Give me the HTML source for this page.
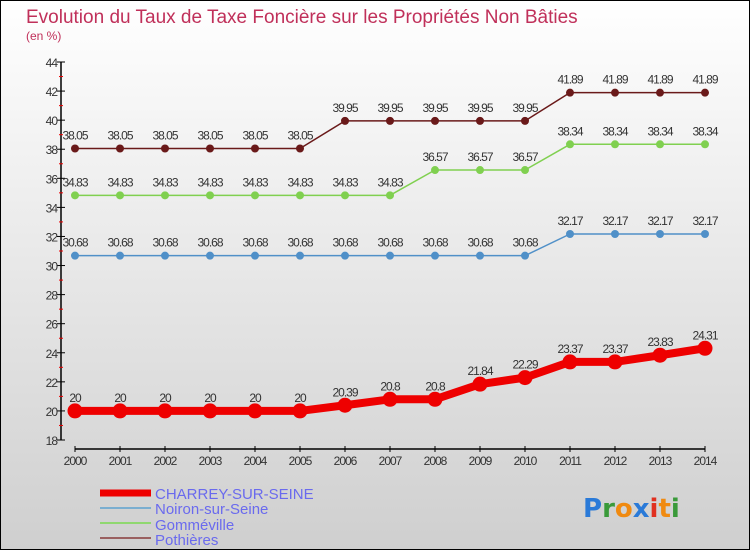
<!DOCTYPE html>
<html><head><meta charset="utf-8"><style>
body{margin:0;padding:0}
#c{width:750px;height:550px;position:relative;overflow:hidden;font-family:"Liberation Sans","DejaVu Sans",sans-serif}
</style></head><body>
<div id="c">
<svg id="s" width="750" height="550" xmlns="http://www.w3.org/2000/svg">
<defs><linearGradient id="bg" x1="0" y1="0" x2="0" y2="1"><stop offset="0" stop-color="#ffffff"/><stop offset="1" stop-color="#cfcfcf"/></linearGradient></defs>
<rect x="0.5" y="0.5" width="749" height="549" fill="url(#bg)" stroke="#000"/>
<text x="26" y="23" font-size="19" fill="#c0305a">Evolution du Taux de Taxe Foncière sur les Propriétés Non Bâties</text>
<text x="26" y="40" font-size="12" fill="#c0305a">(en %)</text>
<g id="plot"></g>
<g>
<line x1="100" y1="493" x2="151" y2="493" stroke="#ee0000" stroke-width="7"/>
<text x="155" y="499" font-size="15" fill="#6a6aee">CHARREY-SUR-SEINE</text>
<line x1="100" y1="508" x2="151" y2="508" stroke="#7aaed0" stroke-width="2"/>
<text x="155" y="514" font-size="15" fill="#6a6aee">Noiron-sur-Seine</text>
<line x1="100" y1="523" x2="151" y2="523" stroke="#90d870" stroke-width="2"/>
<text x="155" y="530" font-size="15" fill="#6a6aee">Gomméville</text>
<line x1="100" y1="538" x2="151" y2="538" stroke="#9a6060" stroke-width="2"/>
<text x="155" y="545" font-size="15" fill="#6a6aee">Pothières</text>
</g>
<g font-size="26" font-family="'DejaVu Sans',sans-serif" font-weight="bold">
<text x="583" y="517"><tspan fill="#2a7ad8">P</tspan><tspan fill="#3a9a3a">r</tspan><tspan fill="#f08a10">o</tspan><tspan fill="#2a7ad8">x</tspan><tspan fill="#e03020">i</tspan><tspan fill="#f08a10">t</tspan><tspan fill="#3a9a3a">i</tspan></text>
</g>
</svg>
</div>
<script>
const years = [2000,2001,2002,2003,2004,2005,2006,2007,2008,2009,2010,2011,2012,2013,2014];
const charrey = [20,20,20,20,20,20,20.39,20.8,20.8,21.84,22.29,23.37,23.37,23.83,24.31];
const noiron = [30.68,30.68,30.68,30.68,30.68,30.68,30.68,30.68,30.68,30.68,30.68,32.17,32.17,32.17,32.17];
const gommeville = [34.83,34.83,34.83,34.83,34.83,34.83,34.83,34.83,36.57,36.57,36.57,38.34,38.34,38.34,38.34];
const pothieres = [38.05,38.05,38.05,38.05,38.05,38.05,39.95,39.95,39.95,39.95,39.95,41.89,41.89,41.89,41.89];
const yTicks = [18,20,22,24,26,28,30,32,34,36,38,40,42,44];

const NS='http://www.w3.org/2000/svg';
const g=document.getElementById('plot');
const x=i=>75+i*45;
const y=v=>440-(v-18)*(378/26);
function mk(t,a){const e=document.createElementNS(NS,t);for(const k in a)e.setAttribute(k,a[k]);g.appendChild(e);return e;}
function fmt(v){return String(v);}

let e=mk('line',{x1:61,y1:62,x2:61,y2:440,stroke:'#000','stroke-width':1.5});


yTicks.forEach(t=>{
  let l=mk('line',{x1:57,y1:y(t),x2:65,y2:y(t),stroke:'#000'});
  
  
  if(t<44){let m=mk('line',{x1:59,y1:y(t+1),x2:63,y2:y(t+1),stroke:'#e00'});
  
  }
  let tx=mk('text',{x:57,y:y(t)+5,'font-size':12,'text-anchor':'end',fill:'#333','letter-spacing':'-1'});
  tx.textContent=t;
  
  
});
e=mk('line',{x1:75,y1:449,x2:705,y2:449,stroke:'#000','stroke-width':1.5});


years.forEach((yr,i)=>{
  let l=mk('line',{x1:x(i),y1:446,x2:x(i),y2:452,stroke:'#000'});
  
  
  let tx=mk('text',{x:x(i),y:465,'font-size':12,'text-anchor':'middle',fill:'#333','letter-spacing':'-1'});
  tx.textContent=yr;
  
  
});
function series(vals,color,w,r,name){
  const pts=vals.map((v,i)=>x(i)+','+y(v)).join(' ');
  let p=mk('polyline',{points:pts,fill:'none',stroke:color,'stroke-width':w,'stroke-linejoin':'round'});
  
  
  vals.forEach((v,i)=>{
    let c=mk('circle',{cx:x(i),cy:y(v),r:r,fill:color});
    
    
    let t=mk('text',{x:x(i),y:y(v)-9,'font-size':12,'text-anchor':'middle',fill:'#333','letter-spacing':'-1'});
    t.textContent=fmt(v);
    
    
  });
}
series(pothieres,'#6a1a1a',1.5,4,'pothieres');
series(gommeville,'#80d050',1.5,4,'gommeville');
series(noiron,'#5090c8',1.5,4,'noiron');
series(charrey,'#ee0000',8,7.5,'charrey');
</script>
</body></html>
